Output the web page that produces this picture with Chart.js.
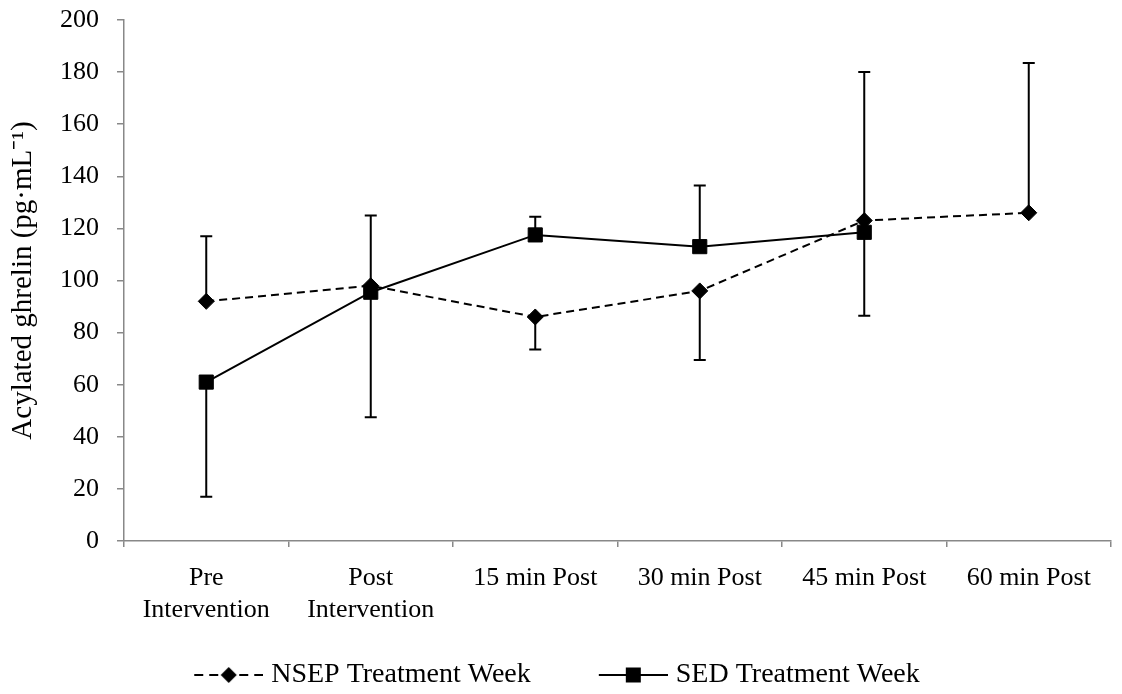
<!DOCTYPE html>
<html>
<head>
<meta charset="utf-8">
<script src="https://cdn.jsdelivr.net/npm/chart.js@4.4.1/dist/chart.umd.min.js"></script>
<style>
  body { margin: 0; background: #fff; }
</style>
</head>
<body>
<canvas id="chart" width="1122" height="694"></canvas>
<script>
// values
const categories = [['Pre', 'Intervention'], ['Post', 'Intervention'], '15 min Post', '30 min Post', '45 min Post', '60 min Post'];
const nsepValues = [92, 98, 86, 96, 123, 126];
const nsepErr = [25, 27, -12.5, -26.5, 57, 57.5];   // sign = direction of the one-sided bar
const sedValues = [61, 95.5, 117.5, 113, 118.5, null];
const sedErr = [-44, -48, 7, 23.5, -32, null];
const yMin = 0, yMax = 200, yStep = 20;
const seriesNames = ['NSEP Treatment Week', 'SED Treatment Week'];

const serif = "'Liberation Serif', 'Times New Roman', serif";
const axisGray = '#888888';
const tickFont = 26;
const legendFont = 28;

// spread the two legend entries like the original
const mctx = document.createElement('canvas').getContext('2d');
mctx.font = legendFont + 'px ' + serif;
const t1 = mctx.measureText(seriesNames[0]).width;
const t2 = mctx.measureText(seriesNames[1]).width;
const legendPad = 10;
const legendBox = Math.round(391 - t1 - legendPad);
const padLeft = Math.round(542 + legendPad + t1 + t2 - 1118);   // shifts the centred legend left

function legendSymbol(dashed, marker) {
  const half = Math.max(63 - legendBox / 2, legendBox / 2 + 6);
  const c = document.createElement('canvas');
  c.width = Math.round(half * 2);
  c.height = 22;
  const g = c.getContext('2d');
  const x0 = half + legendBox / 2 - 63, x1 = x0 + 69, cy = 11;
  g.strokeStyle = '#000';
  g.lineWidth = 2;
  if (dashed) g.setLineDash([9, 6]);
  g.beginPath();
  g.moveTo(x0, cy);
  g.lineTo(x1, cy);
  g.stroke();
  g.fillStyle = '#000';
  const mx = (x0 + x1) / 2;
  g.beginPath();
  if (marker == 'diamond') {
    g.moveTo(mx - 8, cy); g.lineTo(mx, cy - 8); g.lineTo(mx + 8, cy); g.lineTo(mx, cy + 8);
  } else {
    g.rect(mx - 7.5, cy - 7.5, 15, 15);
  }
  g.closePath();
  g.fill();
  return c;
}

const errorBars = {
  id: 'errorBars',
  beforeDatasetsDraw(chart) {
    const ctx = chart.ctx;
    const y = chart.scales.y;
    ctx.save();
    ctx.strokeStyle = '#000';
    ctx.lineWidth = 2;
    chart.data.datasets.forEach((ds, di) => {
      const meta = chart.getDatasetMeta(di);
      ds.data.forEach((v, i) => {
        if (v == null || ds.err[i] == null) return;
        const px = meta.data[i].x;
        const p0 = y.getPixelForValue(v);
        const p1 = y.getPixelForValue(v + ds.err[i]);
        ctx.beginPath();
        ctx.moveTo(px, p0); ctx.lineTo(px, p1);
        ctx.moveTo(px - 6, p1); ctx.lineTo(px + 6, p1);
        ctx.stroke();
      });
    });
    ctx.restore();
  }
};

new Chart(document.getElementById('chart'), {
  type: 'line',
  data: {
    labels: categories,
    datasets: [{
      label: seriesNames[0],
      data: nsepValues,
      err: nsepErr,
      borderColor: '#000',
      backgroundColor: '#000',
      borderWidth: 2,
      borderDash: [8, 5],
      pointStyle: 'rectRot',
      pointRadius: 8,
      pointBorderWidth: 1,
      tension: 0
    }, {
      label: seriesNames[1],
      data: sedValues,
      err: sedErr,
      borderColor: '#000',
      backgroundColor: '#000',
      borderWidth: 2,
      pointStyle: 'rect',
      pointRadius: 10,
      pointBorderWidth: 1,
      tension: 0
    }]
  },
  options: {
    responsive: false,
    animation: false,
    layout: { padding: { top: 20, right: 4, bottom: -5, left: padLeft } },
    plugins: {
      tooltip: { enabled: false },
      legend: {
        position: 'bottom',
        labels: {
          color: '#000',
          font: { family: serif, size: legendFont },
          padding: legendPad,
          usePointStyle: true,
          pointStyleWidth: legendBox,
          generateLabels: () => [
            { text: seriesNames[0], pointStyle: legendSymbol(true, 'diamond'), fontColor: '#000', lineWidth: 0, hidden: false, datasetIndex: 0 },
            { text: seriesNames[1], pointStyle: legendSymbol(false, 'square'), fontColor: '#000', lineWidth: 0, hidden: false, datasetIndex: 1 }
          ]
        }
      }
    },
    scales: {
      x: {
        offset: true,
        grid: { display: true, offset: true, drawOnChartArea: false, tickLength: 6, color: axisGray, lineWidth: 1.5 },
        border: { color: axisGray, width: 1.5 },
        ticks: { color: '#000', padding: 16, maxRotation: 0, autoSkip: false, font: { family: serif, size: tickFont } },
        afterFit(scale) {
          scale.height = 110;
          scale.paddingLeft = 0;
          scale.paddingRight = 0;
        }
      },
      y: {
        min: yMin,
        max: yMax,
        grid: { display: true, drawOnChartArea: false, tickLength: 7, color: axisGray, lineWidth: 1.5 },
        border: { color: axisGray, width: 1.5 },
        ticks: { stepSize: yStep, color: '#000', padding: 18, font: { family: serif, size: tickFont } },
        title: {
          display: true,
          text: 'Acylated ghrelin (pg·mL⁻¹)',
          color: '#000',
          padding: { top: 6 - padLeft, bottom: 4 },
          font: { family: serif, size: 29 }
        },
        afterFit(scale) {
          scale.width = 124 - padLeft;
          scale.paddingTop = 0;
          scale.paddingBottom = 0;
        }
      }
    }
  },
  plugins: [errorBars]
});
</script>
</body>
</html>
